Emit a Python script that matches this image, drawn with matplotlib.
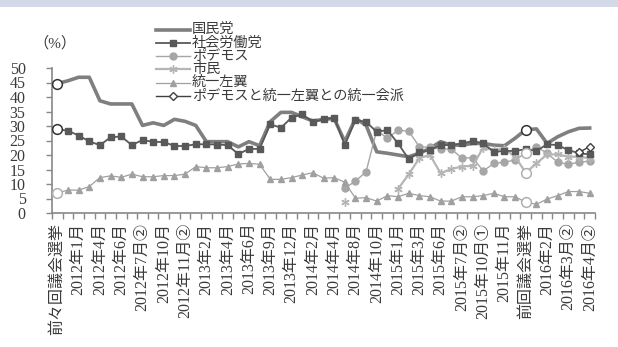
import numpy as np
import matplotlib
matplotlib.use('Agg')
import matplotlib.pyplot as plt
from matplotlib.patches import Rectangle
from matplotlib.lines import Line2D

plt.rcParams['font.family'] = ['Liberation Serif', 'Noto Sans CJK JP', 'DejaVu Sans']

nan = np.nan

# Libellés de l'axe des x (un sur deux)
labels = ['前々回議会選挙', '2012年1月', '2012年4月', '2012年6月', '2012年7月②',
          '2012年10月', '2012年11月②', '2013年2月', '2013年4月', '2013年6月',
          '2013年9月', '2013年12月', '2014年2月', '2014年4月', '2014年8月',
          '2014年10月', '2015年1月', '2015年3月', '2015年6月', '2015年7月②',
          '2015年10月①', '2015年11月', '前回議会選挙', '2016年2月', '2016年3月②',
          '2016年4月②']

pp = [44.6, 45.6, 46.8, 46.8, 38.7, 37.6, 37.6, 37.6, 30.2, 31.1,
      30.2, 32.3, 31.6, 30.2, 24.6, 24.6, 24.6, 22.8, 24.6, 23.2,
      31.5, 34.7, 34.7, 33.2, 31.7, 32.3, 32.6, 24.6, 32.6, 30.3,
      21.1, 20.6, 20.0, 19.4, 20.6, 22.3, 24.6, 23.4, 23.4, 24.0,
      24.0, 23.4, 23.2, 25.8, 28.7, 29.0, 24.0, 26.3, 28.0, 29.2, 29.3]

psoe = [28.8, 28.4, 26.7, 24.7, 23.4, 26.1, 26.4, 23.4, 25.2, 24.5,
        24.5, 23.1, 23.1, 23.7, 23.7, 23.6, 23.4, 20.3, 22.1, 22.1,
        30.6, 29.4, 32.9, 34.0, 31.4, 32.3, 32.9, 23.4, 32.1, 31.4,
        28.0, 28.6, 24.0, 18.6, 20.9, 21.7, 23.4, 23.4, 24.0, 24.8,
        24.0, 21.1, 21.4, 21.4, 22.0, 21.4, 23.7, 23.4, 21.7, 20.6, 20.2]

podemos = [nan] * 27 + [8.5, 11.0, 14.2, 28.6, 25.7, 28.6, 28.2, 22.9, 22.6, 22.1,
                        22.1, 18.9, 19.1, 14.5, 17.1, 17.5, 18.3, 20.7, 22.9, 20.6,
                        17.5, 16.8, 17.5, 17.9]

cs = [nan] * 27 + [3.7, nan, nan, nan, nan, 8.3, 13.3, 18.9, 20.0, 13.7,
                   15.2, 16.0, 16.3, 22.5, 21.7, 22.1, 19.4, 13.9, 17.1, 20.2,
                   20.2, 19.4, 19.4, 18.9]

iu = [6.9, 7.9, 7.9, 9.1, 12.2, 12.8, 12.3, 13.4, 12.5, 12.5,
      12.9, 12.9, 13.4, 16.0, 15.6, 15.6, 16.0, 16.9, 17.1, 16.8,
      11.6, 11.6, 12.2, 13.1, 13.9, 12.0, 12.2, 10.6, 5.1, 5.3,
      4.1, 6.0, 5.6, 6.8, 6.0, 5.6, 4.1, 4.1, 5.6, 5.6,
      6.0, 6.8, 5.6, 5.6, 3.7, 3.0, 4.8, 6.0, 7.4, 7.4, 6.8]

unidos = [nan] * 49 + [20.9, 22.9]

# Résultats électoraux marqués par un rond vide : (indice, série, couleur du bord)
election_marks = [(0, pp, '#333333'), (0, psoe, '#333333'), (0, iu, '#b0b0b0'),
                  (44, pp, '#333333'), (44, podemos, '#b0b0b0'), (44, cs, '#b0b0b0'),
                  (44, iu, '#b0b0b0')]

# Noms et styles des séries
names = ['国民党', '社会労働党', 'ポデモス', '市民', '統一左翼', 'ポデモスと統一左翼との統一会派']
series = [pp, psoe, podemos, cs, iu, unidos]
styles = [
    dict(color='#7f7f7f', lw=2.6, zorder=3),
    dict(color='#595959', lw=1.3, marker='s', ms=3.8, zorder=4),
    dict(color='#a6a6a6', lw=1.0, marker='o', ms=5, zorder=3),
    dict(color='#b5b5b5', lw=1.6, marker=(6, 2, 0), ms=6, mew=1.0, zorder=3),
    dict(color='#a0a0a0', lw=0.9, marker='^', ms=4.5, zorder=3),
    dict(color='#404040', lw=1.0, marker='D', ms=4, mfc='white', mew=1.0, zorder=5),
]

x = np.arange(len(pp))

fig = plt.figure(figsize=(6.18, 3.47), dpi=100)
fig.patches.append(Rectangle((0, 1 - 7 / 347), 1, 7 / 347, transform=fig.transFigure,
                             facecolor='#d3d9e6', edgecolor='none', zorder=0))
ax = fig.add_axes([52 / 618, 1 - 213 / 347, 543 / 618, 145 / 347])

for s, st in zip(series, styles):
    ax.plot(x, s, **st)

for i, s, ec in election_marks:
    ax.plot(x[i], s[i], 'o', ms=7, mfc='white', mec=ec, mew=1.1, zorder=6)

ax.set_xlim(-0.5, len(pp) - 0.5)
ax.set_ylim(0, 50)
ax.set_yticks(range(0, 51, 5))
ax.set_xticks(x[::2])
ax.set_xticklabels(labels, rotation=90, fontsize=11.5, color='#3a3a3a', va='top')
ax.set_xticks(np.arange(-0.5, len(pp), 1), minor=True)
ax.tick_params(axis='x', which='major', length=0, pad=7)
ax.tick_params(axis='x', which='minor', length=4, width=1, color='#888888', direction='out')
ax.tick_params(axis='y', length=4, width=1, color='#888888', pad=15, labelsize=11.5,
               labelcolor='#3a3a3a')

for side in ['top', 'right']:
    ax.spines[side].set_visible(False)
for side in ['left', 'bottom']:
    ax.spines[side].set_color('#888888')
    ax.spines[side].set_linewidth(1.2)

fig.text(33 / 618, 1 - 43 / 347, '（%）', fontsize=11, color='#3a3a3a', va='center', ha='left')

# Légende dessinée à la main (lignes serrées comme dans l'original)
x0, x1, xt = 156 / 618, 190 / 618, 192 / 618
for k, (name, st) in enumerate(zip(names, styles)):
    yy = 1 - (29.5 + 13.3 * k) / 347
    st2 = dict(st)
    st2['zorder'] = 7
    fig.add_artist(Line2D([x0, (x0 + x1) / 2, x1], [yy, yy, yy], transform=fig.transFigure,
                          markevery=[1], **st2))
    fig.text(xt, yy, name, fontsize=10.2, color='#3a3a3a', va='center', ha='left')

plt.savefig('out.png', dpi=100)
